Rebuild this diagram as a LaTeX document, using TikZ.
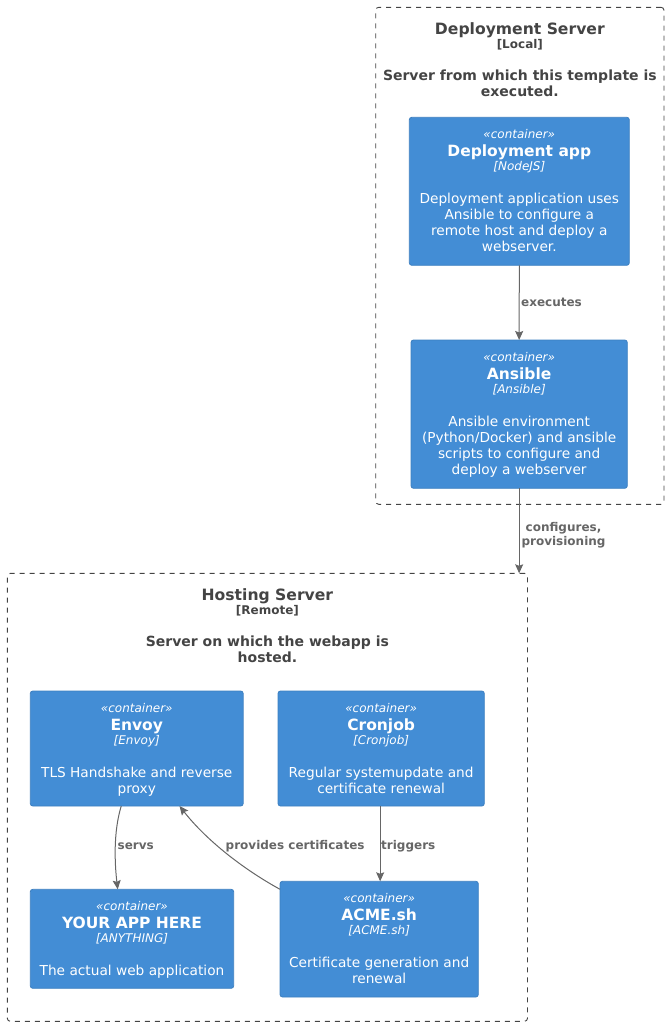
\documentclass[tikz,border=0pt]{standalone}
\usepackage{fontspec}
\setmainfont{DejaVu Sans}
\usetikzlibrary{arrows.meta}
\definecolor{boxfill}{HTML}{438DD5}
\definecolor{boxline}{HTML}{3C7FC0}
\definecolor{bdtext}{HTML}{444444}
\definecolor{arrowc}{HTML}{666666}
\tikzset{
  cbox/.style={draw=boxline, fill=boxfill, rounded corners=2.5pt, line width=0.8pt, inner sep=0pt, outer sep=0pt, anchor=north west},
  bound/.style={draw=bdtext, dash pattern=on 5pt off 5pt, rounded corners=3pt, line width=0.9pt, inner sep=0pt, outer sep=0pt, anchor=north west},
  stereo/.style={text=white, font=\fontsize{12}{14}\selectfont\itshape, anchor=base, inner sep=0pt},
  ctitle/.style={text=white, font=\fontsize{15.5}{18}\selectfont\bfseries, anchor=base, inner sep=0pt},
  cdesc/.style={text=white, font=\fontsize{13.7}{16}\selectfont, anchor=base, inner sep=0pt},
  btitle/.style={text=bdtext, font=\fontsize{15.6}{18}\selectfont\bfseries, anchor=base, inner sep=0pt},
  btype/.style={text=bdtext, font=\fontsize{12}{14}\selectfont\bfseries, anchor=base, inner sep=0pt},
  bdesc/.style={text=bdtext, font=\fontsize{14}{16}\selectfont\bfseries, anchor=base, inner sep=0pt},
  rel/.style={draw=arrowc, line width=1pt, -{Stealth[length=9pt,width=8pt,inset=1.5pt]}},
  rlabel/.style={text=arrowc, font=\fontsize{12}{14}\selectfont\bfseries, anchor=base west, inner sep=0pt},
  rlabelc/.style={text=arrowc, font=\fontsize{12}{14}\selectfont\bfseries, anchor=base, inner sep=0pt},
}
% container: name, x1, y1, x2, y2, title, tech, description lines
\newcommand\mycont[8]{%
  \node[cbox, minimum width={(#4-#2)*1pt}, minimum height={(#5-#3)*1pt}] (#1) at (#2,#3) {};
  \node[stereo] (#1-st) at ([yshift=-21pt]#1.north) {«container»};
  \node[ctitle] (#1-ti) at ([yshift=-39pt]#1.north) {#6};
  \node[stereo] (#1-te) at ([yshift=-53.5pt]#1.north) {[#7]};
  \foreach \l [count=\i] in {#8} {
    \node[cdesc] (#1-d\i) at ([yshift={-(86+16*(\i-1))*1pt}]#1.north) {\l};
  }%
}
% boundary: name, x1, y1, x2, y2, title, type, desc lines
\newcommand\mybound[8]{%
  \node[bound, minimum width={(#4-#2)*1pt}, minimum height={(#5-#3)*1pt}] (#1) at (#2,#3) {};
  \node[btitle] (#1-ti) at ([yshift=-27pt]#1.north) {#6};
  \node[btype] (#1-ty) at ([yshift=-41.5pt]#1.north) {[#7]};
  \foreach \l [count=\i] in {#8} {
    \node[bdesc] (#1-d\i) at ([yshift={-(73.5+16*(\i-1))*1pt}]#1.north) {\l};
  }%
}
\begin{document}
\begin{tikzpicture}[x=1pt, y=-1pt]
\useasboundingbox (0,0) rectangle (669,1026);

\mybound{dep}{375.7}{7.3}{664}{504.3}{Deployment Server}{Local}{{Server from which this template is},{executed.}}
\mybound{host}{7.3}{573.3}{527.5}{1021.3}{Hosting Server}{Remote}{{Server on which the webapp is},{hosted.}}

\mycont{dapp}{409.3}{117.3}{629.3}{265.3}{Deployment app}{NodeJS}{{Deployment application uses},{Ansible to configure a},{remote host and deploy a},{webserver.}}
\mycont{ans}{411}{340}{627.3}{488.3}{Ansible}{Ansible}{{Ansible environment},{(Python/Docker) and ansible},{scripts to configure and},{deploy a webserver}}
\mycont{envoy}{30.3}{691}{243.2}{806}{Envoy}{Envoy}{{TLS Handshake and reverse},{proxy}}
\mycont{cron}{278}{691}{484.3}{806}{Cronjob}{Cronjob}{{Regular systemupdate and},{certificate renewal}}
\mycont{app}{30.3}{889.3}{233.7}{988.3}{YOUR APP HERE}{ANYTHING}{{The actual web application}}
\mycont{acme}{280}{881.3}{478.3}{997}{ACME.sh}{ACME.sh}{{Certificate generation and},{renewal}}

% relations
\draw[rel] (dapp.south) -- (ans.north);
\node[rlabel] (l-exec) at (521,306.7) {executes};

\draw[rel] (ans.south) -- (ans.south |- host.north);
\node[rlabelc] (l-conf1) at (563.5,531.7) {configures,};
\node[rlabelc] (l-conf2) at (563.5,545.7) {provisioning};

\draw[rel] ([xshift=-15.5pt]envoy.south) .. controls +(-8,26) and +(-3,-26) .. ([xshift=-14.3pt]app.north);
\node[rlabel] (l-servs) at (117.5,849) {servs};

\draw[rel] ([yshift=-8pt]acme.north west) .. controls +(-40,-22) and +(25,32) .. ([xshift=42.8pt]envoy.south);
\node[rlabel] (l-prov) at (225.5,849) {provides certificates};

\draw[rel] ([xshift=-1pt]cron.south) -- ([xshift=-1pt]cron.south |- acme.north);
\node[rlabel] (l-trig) at (381,849) {triggers};
\end{tikzpicture}
\end{document}
